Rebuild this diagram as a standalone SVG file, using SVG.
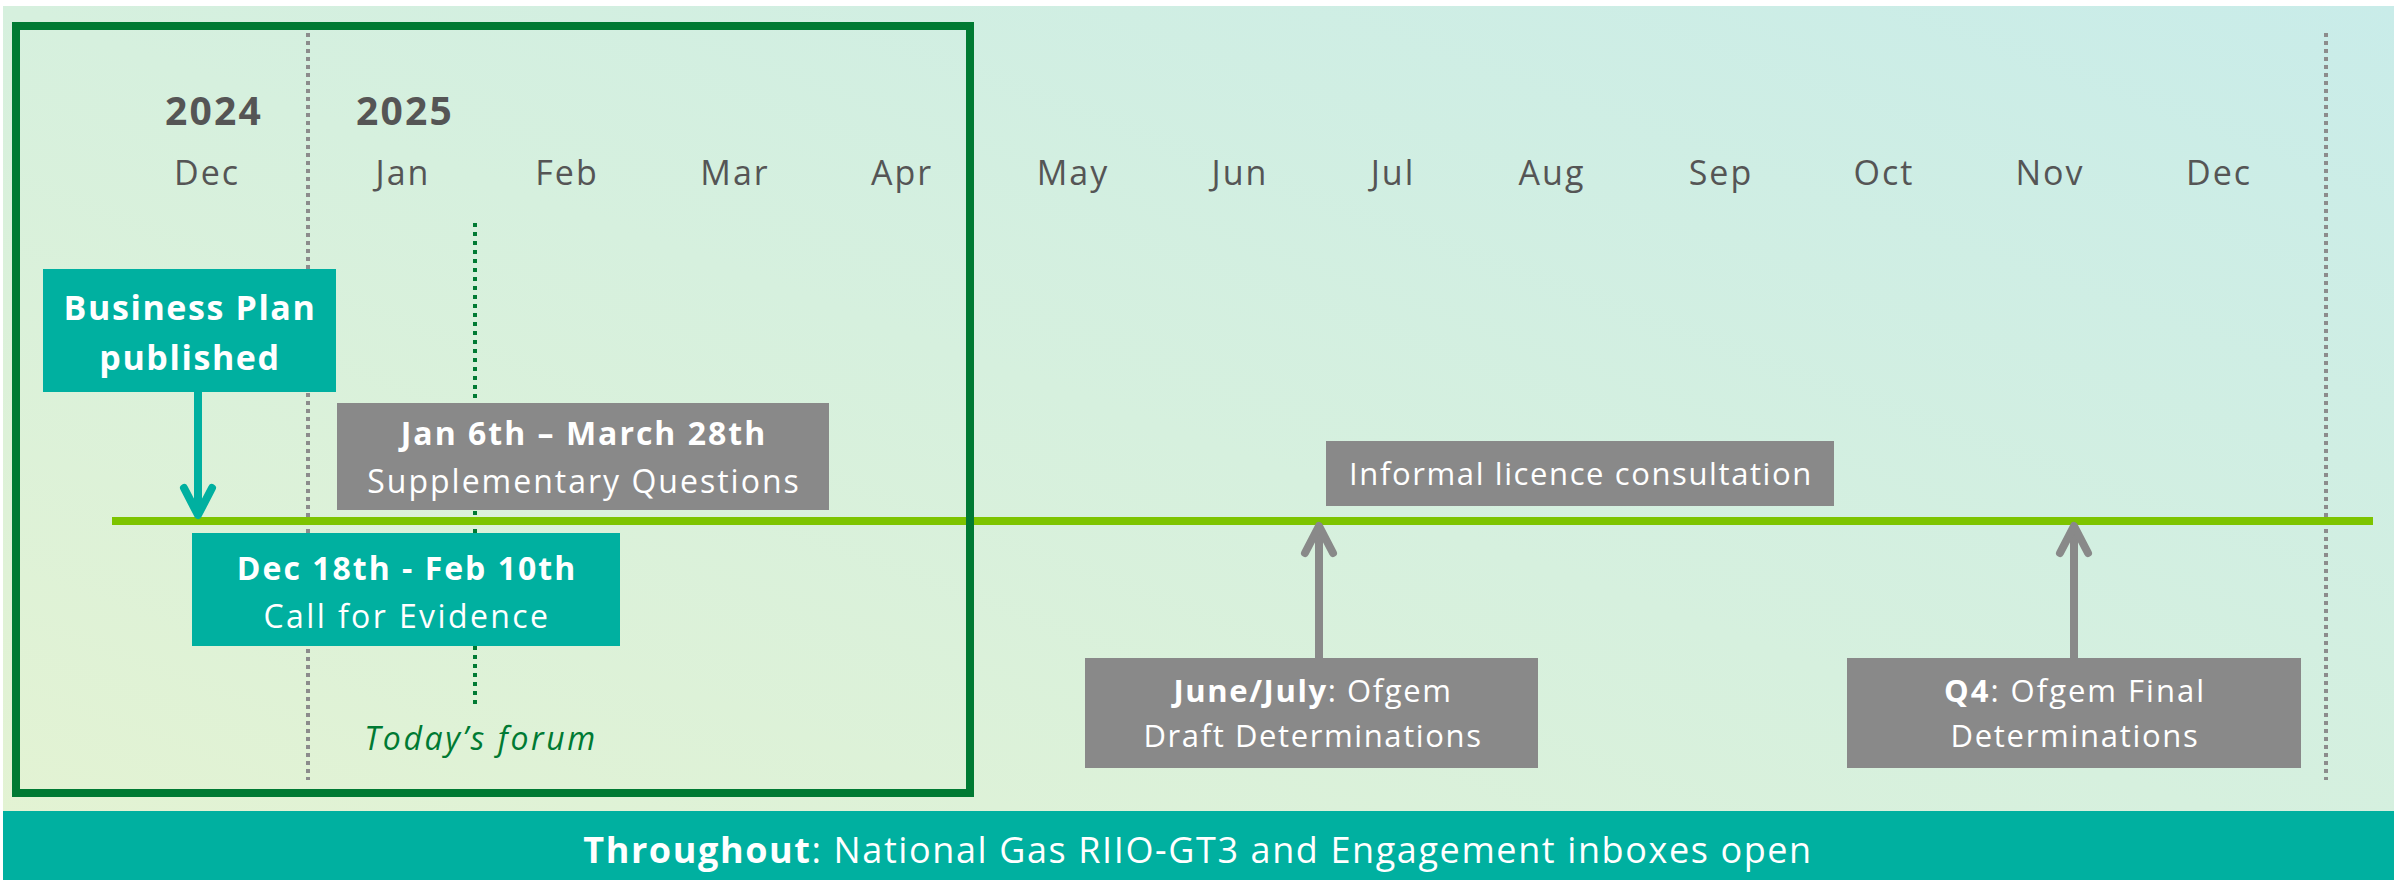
<svg xmlns="http://www.w3.org/2000/svg" width="2407" height="880" viewBox="0 0 2407 880">
<defs>
<linearGradient id="bg" x1="0" y1="1" x2="1" y2="0">
<stop offset="0" stop-color="#E4F3D2"/>
<stop offset="0.5" stop-color="#D6F0DE"/>
<stop offset="1" stop-color="#C9ECE9"/>
</linearGradient>
<marker id="chevTeal" markerUnits="userSpaceOnUse" viewBox="-40 -24 48 48" refX="-4" refY="0" markerWidth="48" markerHeight="48" orient="auto" overflow="visible">
<path d="M-27,-14 L0,0 L-27,14" fill="none" stroke="#00B0A0" stroke-width="8" stroke-linecap="round" stroke-linejoin="round"/>
</marker>
<marker id="chevGray" markerUnits="userSpaceOnUse" viewBox="-40 -24 48 48" refX="-4" refY="0" markerWidth="48" markerHeight="48" orient="auto" overflow="visible">
<path d="M-27,-14 L0,0 L-27,14" fill="none" stroke="#898989" stroke-width="8" stroke-linecap="round" stroke-linejoin="round"/>
</marker>
</defs>
<style>
text{font-family:"Open Sans","Liberation Sans",sans-serif;letter-spacing:2px;}
.yr{font-size:39px;font-weight:700;fill:#555555;letter-spacing:2.2px;}
.mo{font-size:34px;fill:#555555;text-anchor:middle;}
.wt{fill:#FFFFFF;text-anchor:middle;}
.b{font-weight:700;}
.teal{fill:#00B0A0;}
.gray{fill:#898989;}
.gdots{stroke:#8C8C8C;stroke-width:4;stroke-dasharray:4 4;fill:none;}
</style>
<rect x="3" y="6" width="2391" height="874" fill="url(#bg)"/>
<g id="guides">
<line class="gdots" x1="308" y1="33" x2="308" y2="780"/>
<line class="gdots" x1="2326" y1="33" x2="2326" y2="780"/>
<line x1="475" y1="223" x2="475" y2="707" stroke="#007A33" stroke-width="4" stroke-dasharray="4 5"/>
</g>
<g id="timeline">
<line x1="112" y1="521" x2="2373" y2="521" stroke="#7DC400" stroke-width="8"/>
</g>
<g id="focus-box">
<rect x="16" y="26" width="954" height="767" fill="none" stroke="#007A33" stroke-width="8"/>
</g>
<g id="axis">
<text class="yr" x="165" y="125">2024</text>
<text class="yr" x="356" y="125">2025</text>
<text class="mo" x="207" y="185">Dec</text>
<text class="mo" x="403" y="185">Jan</text>
<text class="mo" x="567" y="185">Feb</text>
<text class="mo" x="735" y="185">Mar</text>
<text class="mo" x="902" y="185">Apr</text>
<text class="mo" x="1073" y="185">May</text>
<text class="mo" x="1240" y="185">Jun</text>
<text class="mo" x="1393" y="185">Jul</text>
<text class="mo" x="1552" y="185">Aug</text>
<text class="mo" x="1721" y="185">Sep</text>
<text class="mo" x="1884" y="185">Oct</text>
<text class="mo" x="2050" y="185">Nov</text>
<text class="mo" x="2219" y="185">Dec</text>
</g>
<g id="connectors">
<line x1="198" y1="392" x2="198" y2="511" stroke="#00B0A0" stroke-width="8" marker-end="url(#chevTeal)"/>
<line x1="1319" y1="658" x2="1319" y2="530" stroke="#898989" stroke-width="8" marker-end="url(#chevGray)"/>
<line x1="2074" y1="658" x2="2074" y2="530" stroke="#898989" stroke-width="8" marker-end="url(#chevGray)"/>
</g>
<g id="business-plan">
<rect class="teal" x="43" y="269" width="293" height="123"/>
<text class="wt b" x="190" y="320" font-size="34" style="letter-spacing:1.6px">Business Plan</text>
<text class="wt b" x="190" y="370" font-size="34" style="letter-spacing:1.6px">published</text>
</g>
<g id="supplementary-questions">
<rect class="gray" x="337" y="403" width="492" height="107"/>
<text class="wt b" x="584" y="445" font-size="32">Jan 6th – March 28th</text>
<text class="wt" x="584" y="493" font-size="32">Supplementary Questions</text>
</g>
<g id="call-for-evidence">
<rect class="teal" x="192" y="533" width="428" height="113"/>
<text class="wt b" x="407" y="580" font-size="32">Dec 18th - Feb 10th</text>
<text class="wt" x="407" y="628" font-size="32" style="letter-spacing:2.4px">Call for Evidence</text>
</g>
<g id="todays-forum">
<text x="481" y="750" font-size="32" font-style="italic" fill="#007A33" text-anchor="middle" style="letter-spacing:2.6px">Today’s forum</text>
</g>
<g id="informal-licence">
<rect class="gray" x="1326" y="441" width="508" height="65"/>
<text class="wt" x="1581" y="485" font-size="31" style="letter-spacing:1.6px">Informal licence consultation</text>
</g>
<g id="draft-determinations">
<rect class="gray" x="1085" y="658" width="453" height="110"/>
<text class="wt" x="1313" y="702" font-size="31" style="letter-spacing:1.6px"><tspan class="b">June/July</tspan>: Ofgem</text>
<text class="wt" x="1313" y="747" font-size="31" style="letter-spacing:1.6px">Draft Determinations</text>
</g>
<g id="final-determinations">
<rect class="gray" x="1847" y="658" width="454" height="110"/>
<text class="wt" x="2075" y="702" font-size="31"><tspan class="b">Q4</tspan>: Ofgem Final</text>
<text class="wt" x="2075" y="747" font-size="31" style="letter-spacing:1.7px">Determinations</text>
</g>
<g id="throughout-banner">
<rect class="teal" x="3" y="811" width="2391" height="69"/>
<text class="wt" x="1198" y="863" font-size="36" style="letter-spacing:1.6px"><tspan class="b">Throughout</tspan>: National Gas RIIO-GT3 and Engagement inboxes open</text>
</g>
</svg>
